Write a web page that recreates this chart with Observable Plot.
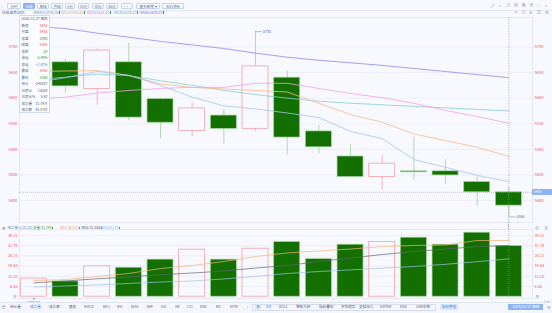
<!DOCTYPE html>
<html><head><meta charset="utf-8">
<script src="https://cdn.jsdelivr.net/npm/d3@7"></script>
<script src="https://cdn.jsdelivr.net/npm/@observablehq/plot@0.6"></script>
<style>
html,body{margin:0;padding:0;background:#f8f9fe;}
#root{position:relative;width:552px;height:313px;overflow:hidden;background:#f8f9fe;font-family:"Noto Sans CJK SC","Noto Sans",sans-serif;color:#5a6478;}
.a{position:absolute;white-space:nowrap;line-height:1;}
.btn{position:absolute;top:2.5px;height:6px;border:0.5px solid #c6d5ee;border-radius:1px;font-size:3.6px;line-height:5.5px;text-align:center;color:#5a6b85;background:#fbfcff;box-sizing:border-box;}
.btn.sel{background:#8fb0ef;color:#fff;border-color:#8fb0ef;}
.info{position:absolute;left:19px;top:15px;width:31px;height:98px;background:#fbfcff;border:0.5px solid #cfdaec;box-sizing:border-box;font-size:3.5px;}
.info .r{position:absolute;left:1.5px;right:1.5px;height:6.5px;line-height:6.5px;}
.info .r span.v{position:absolute;right:0;}
.tab{position:absolute;top:305px;font-size:3.6px;line-height:1;color:#5a6478;}
.ico{position:absolute;font-size:4px;color:#8a93a6;line-height:1;}
</style></head><body><div id="root"></div>
<script>
// ---------------- data ----------------
const candleIdx = [-1, 0, 1, 2, 3, 4, 5, 6, 7, 8, 9, 10, 11, 12, 13, 14];
const opens  = [5650, 5670, 5618, 5670, 5598, 5536, 5566, 5540, 5640, 5535, 5486, 5446, 5457, 5457, 5436, 5416];
const highs  = [5700, 5676, 5696, 5707, 5600, 5591, 5578, 5730, 5654, 5547, 5509, 5488, 5524, 5480, 5447, 5426];
const lows   = [5640, 5610, 5586, 5556, 5521, 5525, 5511, 5535, 5489, 5492, 5444, 5421, 5439, 5431, 5388, 5368];
const closes = [5695, 5623, 5693, 5562, 5552, 5580, 5540, 5662, 5523, 5504, 5446, 5472, 5455, 5449, 5416, 5390];

const ma5  = [5630, 5640, 5652, 5645, 5625, 5602, 5585, 5579, 5571, 5562, 5535, 5521, 5480, 5465, 5449, 5437];
const ma10 = [5652, 5653, 5654, 5644, 5628, 5621, 5618, 5615, 5612, 5590, 5568, 5553, 5530, 5517, 5504, 5486];
const ma20 = [5598, 5602, 5610, 5615, 5619, 5621, 5621, 5629, 5629, 5619, 5609, 5601, 5590, 5576, 5564, 5551];
const ma30 = [5636, 5641, 5647, 5644, 5634, 5625, 5615, 5607, 5600, 5594, 5590, 5587, 5584, 5581, 5578, 5575];
const ma60 = [5740, 5736, 5727, 5719, 5711, 5704, 5697, 5688, 5680, 5674, 5669, 5664, 5658, 5652, 5646, 5640];

const volumes = [11.6, 9.8, 19.5, 18.6, 23.8, 30.2, 23.8, 30.8, 35.1, 24.1, 33.4, 35.1, 37.9, 33.4, 41.1, 32.5];
const vma1 = [10.4, 11.0, 13.0, 14.9, 18.1, 20.0, 22.6, 25.8, 28.1, 29.4, 30.6, 32.2, 32.9, 33.2, 36.1, 36.1];
const vma2 = [8.9, 10.1, 11.5, 12.7, 14.1, 15.2, 16.5, 18.4, 20.0, 22.6, 24.8, 27.1, 29.0, 30.6, 32.2, 32.9];
const vma3 = [6.2, 6.9, 7.6, 8.5, 9.4, 10.1, 11.4, 13.0, 14.9, 16.2, 17.2, 18.3, 19.4, 20.8, 22.5, 24.3];

const priceTicks = [5400, 5450, 5500, 5550, 5600, 5650, 5700];
const volTicks = [6.55, 13.10, 19.66, 26.21, 32.76, 39.31];
const xTickIdx = [-1];
const xTickLabels = ["2025/11"];
const crossIdx = 14;
const crossPrice = 5416;
const crossDate = "2025/11/27 周四";

const maLegend = [
  {t: "MA5:5436.80", c: "#6f9fd6", x: 38},
  {t: "MA10:5485.60", c: "#f0a362", x: 61},
  {t: "MA20:5551.20", c: "#e477d6", x: 87},
  {t: "MA30:5575.27", c: "#4fb1ba", x: 114},
  {t: "MA60:5638.03", c: "#7d70ea", x: 140}
];
const volLegend = [
  {t: "总量:31.793", c: "#3d9a3d", x: 33},
  {t: "MA1:36.673", c: "#f0a362", x: 60},
  {t: "MA2:31.285", c: "#4d5460", x: 81.5},
  {t: "MA3:23.177", c: "#7aaaf0", x: 100}
];
const infoRows = [
  ["2025/11/27", "周四", "#5a6478"],
  ["数值", "5416", "#e8505b"],
  ["开盘", "5416", "#e8505b"],
  ["收盘", "5390", "#2e9a3e"],
  ["结算", "5388", "#e8505b"],
  ["涨跌", "-24", "#2e9a3e"],
  ["涨幅", "-0.44%", "#2e9a3e"],
  ["振幅", "+1.07%", "#4a7fd0"],
  ["最高", "5426", "#e8505b"],
  ["最低", "5368", "#2e9a3e"],
  ["持仓", "248587", "#4a6a88"],
  ["日增仓", "15508", "#4a6a88"],
  ["日增仓%", "8.42", "#4a6a88"],
  ["成交量", "31.79万", "#4a6a88"],
  ["成交额", "85.47亿", "#4a6a88"]
];
const toolButtons = [
  {t: "分时", x: 7, w: 14}, {t: "日线", x: 23, w: 12, sel: true}, {t: "周线", x: 37, w: 12},
  {t: "月线", x: 51, w: 12}, {t: "5分", x: 65, w: 10}, {t: "15分", x: 78, w: 11},
  {t: "30分", x: 92, w: 12}, {t: "60分", x: 106, w: 12}, {t: "···", x: 121, w: 12},
  {t: "更多周期 ▾", x: 136, w: 24}, {t: "合约资料", x: 162, w: 22}
];
const leftTabs = [
  {t: "持仓量", x: 10}, {t: "成交量", x: 30, sel: true}, {t: "成交额", x: 49}, {t: "基差", x: 69},
  {t: "MACD", x: 84}, {t: "KDJ", x: 103}, {t: "RSI", x: 117}, {t: "BIAS", x: 131}, {t: "WR", x: 147},
  {t: "ASI", x: 161}, {t: "VR", x: 175}, {t: "CCI", x: 187}, {t: "DMI", x: 200}, {t: "KD", x: 216},
  {t: "MTM", x: 230}, {t: "›", x: 247}
];
const rightTabs = [
  {t: "MA", x: 266, sel: true}, {t: "BOLL", x: 279}, {t: "神奇九转", x: 296}, {t: "指标叠加", x: 319},
  {t: "多空趋势", x: 341}, {t: "支撑压力", x: 359}, {t: "EXPMA", x: 380}, {t: "ENE", x: 400}, {t: "SAR主图", x: 416}
];

// ---------------- style ----------------
const BG = "#f8f9fe", GRID = "#e6eaf3", BORDER = "#dbe2ee";
const RED_TXT = "#e8505b";
const GREEN_FILL = "#137000", GREEN_STROKE = "#9fd19a", RED_STROKE = "#f2a0a8";
const MA_COLORS = ["#a3c2f3", "#f7b985", "#f29ee6", "#88cdd5", "#8f86f0"];
const VMA_COLORS = ["#f5b27a", "#5f6670", "#9ec0ef"];
const CROSS = "#8f98a8";
const FONT = '"Noto Sans CJK SC", "Noto Sans", sans-serif';
const W = 552;
const PRICE_TOP = 17, PRICE_H = 205;
const VOL_TOP = 229, VOL_H = 76, VOL_MB = 7;
const xDomain = [-1.4525, 14.746];
const HALF = 0.41;

const candles = candleIdx.map((i, k) => ({
  i, open: opens[k], high: highs[k], low: lows[k], close: closes[k], up: closes[k] >= opens[k],
  ma5: ma5[k], ma10: ma10[k], ma20: ma20[k], ma30: ma30[k], ma60: ma60[k],
  vol: volumes[k], vma1: vma1[k], vma2: vma2[k], vma3: vma3[k]
}));
const upC = candles.filter(d => d.up), dnC = candles.filter(d => !d.up);
const shown = candles.filter(d => d.i >= 0);
const hiC = shown.reduce((a, b) => (b.high > a.high ? b : a));
const loC = shown.reduce((a, b) => (b.low < a.low ? b : a));

const root = document.getElementById("root");
function el(tag, cls, css, text) {
  const e = document.createElement(tag);
  if (cls) e.className = cls;
  if (css) e.style.cssText = css;
  if (text != null) e.textContent = text;
  root.appendChild(e);
  return e;
}

// ---------------- price chart ----------------
const price = Plot.plot({
  width: W, height: PRICE_H,
  marginLeft: 19, marginRight: 20, marginTop: 0, marginBottom: 0,
  style: {background: "transparent", fontFamily: FONT, overflow: "visible"},
  x: {domain: xDomain, axis: null},
  y: {domain: [5357, 5757.6], axis: null},
  marks: [
    Plot.ruleY(priceTicks, {stroke: GRID, strokeWidth: 0.7}),
    Plot.axisY({anchor: "left", ticks: priceTicks, tickFormat: d => String(d), tickSize: 0, tickPadding: 2, color: RED_TXT, fontSize: 4}),
    Plot.axisY({anchor: "right", ticks: priceTicks, tickFormat: d => String(d), tickSize: 0, tickPadding: 2, color: RED_TXT, fontSize: 4}),
    Plot.frame({stroke: BORDER, strokeWidth: 0.7}),
    Plot.ruleX(dnC, {x: "i", y1: "low", y2: "high", stroke: GREEN_STROKE, strokeWidth: 0.8, clip: true}),
    Plot.ruleX(upC, {x: "i", y1: "low", y2: "high", stroke: RED_STROKE, strokeWidth: 0.8, clip: true}),
    Plot.rect(dnC, {x1: d => d.i - HALF, x2: d => d.i + HALF, y1: "open", y2: "close", fill: GREEN_FILL, stroke: GREEN_STROKE, strokeWidth: 0.7, clip: true}),
    Plot.rect(upC, {x1: d => d.i - HALF, x2: d => d.i + HALF, y1: "open", y2: "close", fill: BG, stroke: RED_STROKE, strokeWidth: 0.8, clip: true}),
    Plot.line(candles, {x: "i", y: "ma60", stroke: MA_COLORS[4], strokeWidth: 0.8}),
    Plot.line(candles, {x: "i", y: "ma30", stroke: MA_COLORS[3], strokeWidth: 0.8}),
    Plot.line(candles, {x: "i", y: "ma20", stroke: MA_COLORS[2], strokeWidth: 0.8}),
    Plot.line(candles, {x: "i", y: "ma10", stroke: MA_COLORS[1], strokeWidth: 0.8}),
    Plot.line(candles, {x: "i", y: "ma5", stroke: MA_COLORS[0], strokeWidth: 0.8}),
    Plot.ruleY([hiC], {x1: d => d.i, x2: d => d.i + 0.22, y: "high", stroke: "#8a93a6", strokeWidth: 0.6}),
    Plot.text([hiC], {x: d => d.i + 0.24, y: "high", text: d => String(d.high), textAnchor: "start", fontSize: 3.6, fill: "#5a6478"}),
    Plot.ruleY([loC], {x1: d => d.i, x2: d => d.i + 0.22, y: "low", stroke: "#8a93a6", strokeWidth: 0.6}),
    Plot.text([loC], {x: d => d.i + 0.24, y: "low", text: d => String(d.low), textAnchor: "start", fontSize: 3.6, fill: "#5a6478"}),
    Plot.ruleY([crossPrice], {stroke: CROSS, strokeWidth: 0.6, strokeDasharray: "1,1"}),
    Plot.ruleX([crossIdx], {stroke: CROSS, strokeWidth: 0.6, strokeDasharray: "1,1"})
  ]
});
const pWrap = el("div", "a", `left:0;top:${PRICE_TOP}px;`);
pWrap.appendChild(price);

// ---------------- volume chart ----------------
const vol = Plot.plot({
  width: W, height: VOL_H,
  marginLeft: 19, marginRight: 20, marginTop: 0, marginBottom: VOL_MB,
  style: {background: "transparent", fontFamily: FONT, overflow: "visible"},
  x: {domain: xDomain, axis: null},
  y: {domain: [-1.16, 43.16], axis: null},
  marks: [
    Plot.ruleY(volTicks, {stroke: GRID, strokeWidth: 0.7}),
    Plot.axisY({anchor: "left", ticks: volTicks, tickFormat: d => d.toFixed(2), tickSize: 0, tickPadding: 2, color: RED_TXT, fontSize: 3.8}),
    Plot.axisY({anchor: "right", ticks: volTicks, tickFormat: d => d.toFixed(2), tickSize: 0, tickPadding: 2, color: RED_TXT, fontSize: 3.8}),
    Plot.text([0], {y: d => d, frameAnchor: "left", dx: -3, textAnchor: "end", text: () => "万", fontSize: 3.6, fill: "#5a6478"}),
    Plot.text([0], {y: d => d, frameAnchor: "right", dx: 3, textAnchor: "start", text: () => "万", fontSize: 3.6, fill: "#5a6478"}),
    Plot.frame({stroke: BORDER, strokeWidth: 0.7}),
    Plot.rect(candles.filter(d => !d.up), {x1: d => d.i - HALF, x2: d => d.i + HALF, y1: 0, y2: "vol", fill: GREEN_FILL, stroke: GREEN_STROKE, strokeWidth: 0.7, clip: true}),
    Plot.rect(candles.filter(d => d.up), {x1: d => d.i - HALF, x2: d => d.i + HALF, y1: 0, y2: "vol", fill: "none", stroke: RED_STROKE, strokeWidth: 0.8, clip: true}),
    Plot.line(candles, {x: "i", y: "vma3", stroke: VMA_COLORS[2], strokeWidth: 0.7}),
    Plot.line(candles, {x: "i", y: "vma2", stroke: VMA_COLORS[1], strokeWidth: 0.7}),
    Plot.line(candles, {x: "i", y: "vma1", stroke: VMA_COLORS[0], strokeWidth: 0.7}),
    Plot.ruleX([crossIdx], {stroke: CROSS, strokeWidth: 0.6, strokeDasharray: "1,1"}),
    Plot.axisX({ticks: xTickIdx, tickFormat: (d, k) => xTickLabels[k], tickSize: 1.5, tickPadding: 1, fontSize: 3.6, color: "#5a6478"})
  ]
});
const vWrap = el("div", "a", `left:0;top:${VOL_TOP}px;`);
vWrap.appendChild(vol);

// crosshair vertical line in gap between panes
const cx = price.scale("x").apply(crossIdx);
el("div", "a", `left:${cx - 0.3}px;top:${PRICE_TOP + PRICE_H}px;height:${VOL_TOP - PRICE_TOP - PRICE_H}px;border-left:0.6px dotted ${CROSS};`);

// ---------------- top toolbar ----------------
el("div", "a", "left:0;top:0;width:552px;height:10px;border-bottom:0.5px solid #e3e8f2;");
el("div", "ico", "left:1.5px;top:3.5px;font-size:4px;", "‹");
toolButtons.forEach(b => {
  el("div", "btn" + (b.sel ? " sel" : ""), `left:${b.x}px;width:${b.w}px;`, b.t);
});
["⤢", "⌕", "⊖", "▤", "▦", "▣", "⛶", "»"].forEach((s, k) => el("div", "ico", `left:${491 + k * 7.7}px;top:2.5px;`, s));
["↶", "⊙", "⊚", "▥", "⚙"].forEach((s, k) => el("div", "ico", `left:${514 + k * 7.7}px;top:9.5px;`, s));

// legend row
el("div", "a", "left:2px;top:10.8px;font-size:3.5px;color:#5a6478;", "日线 硅铁2603");
el("div", "a", "left:33.5px;top:10.8px;font-size:3.5px;color:#7f8898;", "MA");
maLegend.forEach(m => {
  const e = el("div", "a", `left:${m.x}px;top:10.8px;font-size:3.5px;color:${m.c};`, m.t);
  const w = e.getBoundingClientRect().width;
  el("div", "a", `left:${m.x + w + 0.8}px;top:11.2px;width:0.9px;height:2.8px;background:#3d9a3d;`);
});

// ---------------- info box ----------------
const info = el("div", "info", "");
infoRows.forEach((r, k) => {
  const row = document.createElement("div");
  row.className = "r";
  row.style.top = (k * 6.5) + "px";
  const l = document.createElement("span"); l.textContent = r[0]; l.style.color = "#5a6478";
  const v = document.createElement("span"); v.className = "v"; v.textContent = r[1]; v.style.color = r[2];
  row.appendChild(l); row.appendChild(v);
  info.appendChild(row);
});

// price crosshair label
const cyP = PRICE_TOP + price.scale("y").apply(crossPrice);
el("div", "a", `left:532px;top:${cyP - 3}px;width:20px;height:6px;background:#8fb3ee;color:#fff;font-size:3.6px;line-height:6px;padding-left:1.5px;box-sizing:border-box;`, String(crossPrice));

// ---------------- volume legend ----------------
el("div", "ico", "left:1.5px;top:226px;font-size:4px;color:#5a6478;", "⚙");
el("div", "a", "left:7.5px;top:226.4px;font-size:3.5px;color:#6f8fb8;", "成交量(5,10,20)");
volLegend.forEach((m, k) => {
  const e = el("div", "a", `left:${m.x}px;top:226.4px;font-size:3.5px;color:${m.c};`, m.t);
  const w = e.getBoundingClientRect().width;
  el("div", "a", `left:${m.x + w + 0.8}px;top:226.7px;width:0.9px;height:2.8px;background:${k === 0 ? "#3d9a3d" : "#e8505b"};`);
});
el("div", "ico", "left:535px;top:225.5px;", "⊕");
el("div", "ico", "left:544px;top:225.5px;", "⊗");

// ---------------- bottom tabs ----------------
el("div", "a", "left:0;top:302px;width:552px;height:11px;background:#f4f6fb;border-top:0.5px solid #e0e6f0;");
el("div", "ico", "left:1.5px;top:304.5px;font-size:4px;", "▣");
leftTabs.forEach(t => el("div", "tab", `left:${t.x}px;color:${t.sel ? "#4a86e8" : "#5a6478"};`, t.t));
el("div", "a", "left:252px;top:303.5px;width:184px;height:7px;border:0.5px solid #d6deec;box-sizing:border-box;");
el("div", "a", "left:255px;top:304px;width:6px;height:6px;background:#dfe6f3;font-size:3.6px;line-height:6px;text-align:center;color:#5a6478;", "主");
rightTabs.forEach(t => el("div", "tab", `left:${t.x}px;color:${t.sel ? "#4a86e8" : "#5a6478"};`, t.t));
el("div", "a", "left:440px;top:304px;width:18px;height:6px;background:#dfe8f8;font-size:3.6px;line-height:6px;text-align:center;color:#4a86e8;", "指标管理");
el("div", "a", `left:${cx}px;top:303.5px;width:35px;height:6.5px;background:#8fb3ee;color:#fff;font-size:3.6px;line-height:6.5px;text-align:center;`, crossDate);
el("div", "ico", "left:547px;top:305px;", "⚙");
</script></body></html>
